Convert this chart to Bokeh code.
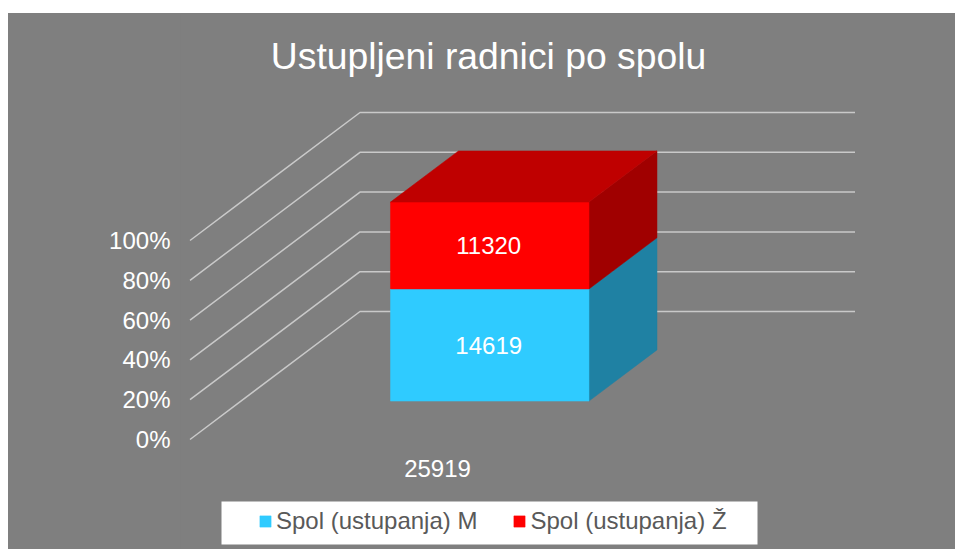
from bokeh.embed import file_html
from bokeh.resources import INLINE
from bokeh.plotting import figure
from bokeh.models import Range1d, LinearAxis, FixedTicker, Legend, LegendItem, BoxAnnotation
from bokeh.core.properties import value

title = "Ustupljeni radnici po spolu"
category = "25919"
series_names = ["Spol (ustupanja) M", "Spol (ustupanja) Ž"]
series_values = [14619, 11320]
ticks = [0, 20, 40, 60, 80, 100]
tick_labels = ["0%", "20%", "40%", "60%", "80%", "100%"]

FONT = value("Liberation Sans")
GREY = "#7F7F7F"
FRONT = ["#2FCBFF", "#FF0000"]
SIDE = ["#1F81A3", "#A00000"]
TOP = "#BF0000"
GRID = "#C9C9C9"

# oblique projection of the 3D chart: u across the floor, d into the depth, pct up
X0, X_W, DX = 189.5, 495.0, 170.0
Y_PX, DY = 1.99, 128.0
def px(u, d):
    return X0 + u * X_W + d * DX
def py(pct, d):
    return pct + d * DY / Y_PX

p = figure(width=947, height=536, output_backend="svg", toolbar_location=None,
           x_range=Range1d(180, 955),
           y_range=Range1d((439 - 549) / Y_PX, (439 - 13) / Y_PX),
           min_border_left=172, min_border_right=0, min_border_top=0, min_border_bottom=0,
           background_fill_color=GREY, border_fill_color=GREY, outline_line_color=None)
p.styles = {"margin-top": "13px", "margin-left": "8px", "background-color": GREY}
p.xaxis.visible = False
p.yaxis.visible = False
p.grid.visible = False

# pale strip on the chart's left edge
p.add_layout(BoxAnnotation(left=-172, right=-171, top=0, bottom=536, left_units="screen", right_units="screen",
                           top_units="screen", bottom_units="screen", fill_color="#CFCFCF", fill_alpha=1,
                           line_color=None, level="overlay", editable=False))

axis = LinearAxis(ticker=FixedTicker(ticks=ticks),
                  major_label_overrides=dict(zip(ticks, tick_labels)),
                  major_label_text_font="Liberation Sans", major_label_text_font_size="24px",
                  major_label_text_color="#FFFFFF", major_label_standoff=10, major_tick_out=0, major_tick_in=0,
                  axis_line_color=None, major_tick_line_color=None, minor_tick_line_color=None)
p.add_layout(axis, "left")

# floor / wall gridlines
for t in ticks:
    p.line([px(0, 0), px(0, 1), px(1, 1)], [py(t, 0), py(t, 1), py(t, 1)],
           line_color=GRID, line_width=1.5)

# stacked 3D bar
total = sum(series_values)
U0, U1, D0, D1 = 0.302, 0.703, 0.3, 0.7
base = 0.0
renderers = []
mids = []
for v, fc, sc in zip(series_values, FRONT, SIDE):
    top_ = base + 100.0 * v / total
    p.patch([px(U1, D0), px(U1, D1), px(U1, D1), px(U1, D0)],
            [py(base, D0), py(base, D1), py(top_, D1), py(top_, D0)],
            fill_color=sc, line_color=sc, line_width=0.5)
    r = p.patch([px(U0, D0), px(U1, D0), px(U1, D0), px(U0, D0)],
                [py(base, D0), py(base, D0), py(top_, D0), py(top_, D0)],
                fill_color=fc, line_color=fc, line_width=0.5)
    renderers.append(r)
    mids.append(py((base + top_) / 2, D0))
    base = top_
p.patch([px(U0, D0), px(U1, D0), px(U1, D1), px(U0, D1)],
        [py(100, D0), py(100, D0), py(100, D1), py(100, D1)],
        fill_color=TOP, line_color=TOP, line_width=0.5)

# data labels
p.text([px((U0 + U1) / 2, D0) - 1] * 2, mids, text=[str(v) for v in series_values],
       text_font=FONT, text_font_size="24px", text_color="#FFFFFF",
       text_align="center", text_baseline="middle")
# category label
p.text([px(0.5, 0)], [(439 - 468) / Y_PX], text=[category], text_font=FONT, text_font_size="24px",
       text_color="#FFFFFF", text_align="center", text_baseline="middle")
# title
p.text([488], [(439 - 55) / Y_PX], text=[title], text_font=FONT, text_font_size="37.3px",
       text_color="#FFFFFF", text_align="center", text_baseline="middle")

# legend box
p.quad(left=[221], right=[757], top=[(439 - 501) / Y_PX], bottom=[(439 - 544) / Y_PX],
       fill_color="#FFFFFF", line_color=None)
legend = Legend(items=[LegendItem(label=n, renderers=[r]) for n, r in zip(series_names, renderers)],
                location=(78, 14), orientation="horizontal", padding=0, margin=0, spacing=35,
                glyph_width=14, glyph_height=14, label_standoff=4,
                label_text_font="Liberation Sans", label_text_font_size="24px",
                label_text_color="#595959", background_fill_alpha=0, border_line_color=None)
p.add_layout(legend, "center")

open("out.html", "w").write(file_html(p, INLINE))
